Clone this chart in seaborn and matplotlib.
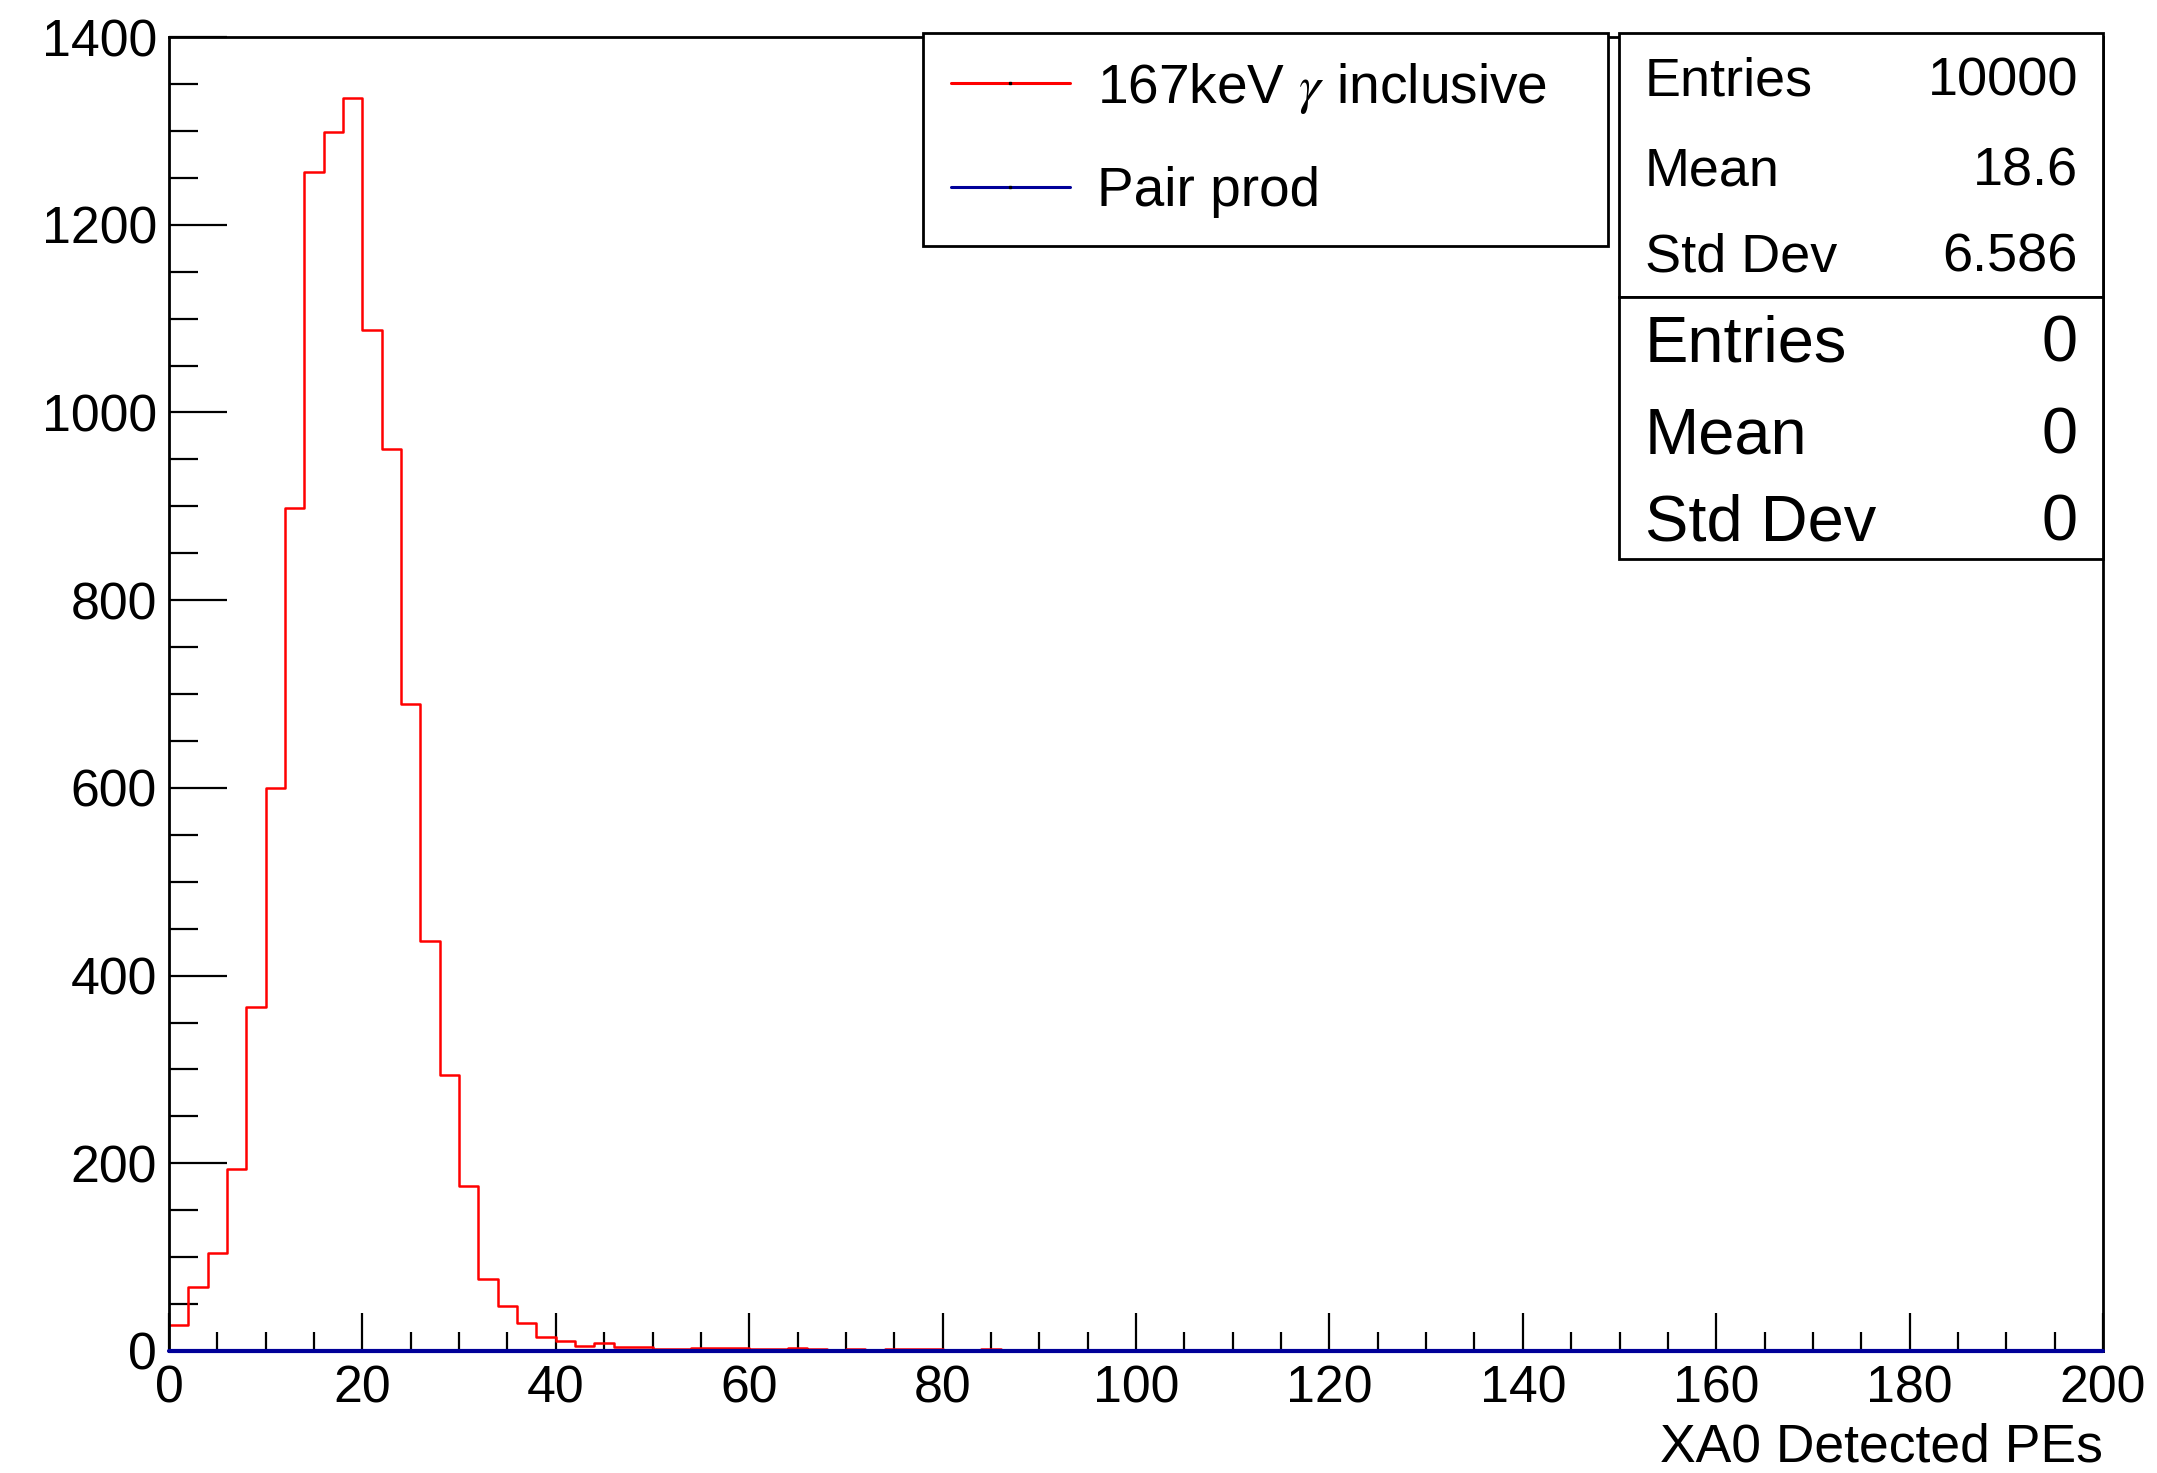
import numpy as np
import pandas as pd
import seaborn as sns
import matplotlib
matplotlib.use("Agg")
import matplotlib.pyplot as plt
from matplotlib.lines import Line2D
from matplotlib.patches import Rectangle
from matplotlib.ticker import MultipleLocator

# ---------------- data ----------------
bin_width = 2
x_range = (0, 200)
inclusive_counts = [
    28, 68, 104, 194, 366, 600, 898, 1256, 1299, 1335,
    1088, 961, 689, 437, 294, 176, 77, 48, 30, 15,
    11, 5, 8, 4, 4, 2, 2, 3, 3, 3,
    2, 2, 3, 2, 0, 2, 0, 2, 2, 2,
    0, 0, 2, 0, 0, 0, 0, 0, 0, 0,
] + [0] * 50
pairprod_counts = [0] * 100

legend_labels = ["167keV $\\gamma$ inclusive", "Pair prod"]
stats1_names = ["Entries", "Mean", "Std Dev"]
stats1_values = ["10000", "18.6", "6.586"]
stats2_names = ["Entries", "Mean", "Std Dev"]
stats2_values = ["0", "0", "0"]
x_label = "XA0 Detected PEs"

# ---------------- style ----------------
sns.set_style("ticks")
plt.rcParams["font.family"] = ["Liberation Sans", "DejaVu Sans"]
plt.rcParams["mathtext.fontset"] = "stix"
for k in ["text.color", "axes.labelcolor", "xtick.color", "ytick.color",
          "xtick.labelcolor", "ytick.labelcolor", "axes.edgecolor"]:
    plt.rcParams[k] = "black"

W, H = 2157, 1473
DPI = 100
fig = plt.figure(figsize=(W / DPI, H / DPI), dpi=DPI)
fig.patch.set_facecolor("white")

def fx(x):
    return x / W

def fy(y):
    return 1 - y / H

ax_l, ax_r, ax_t, ax_b = 169, 2103, 37, 1351
ax = fig.add_axes([fx(ax_l), fy(ax_b), (ax_r - ax_l) / W, (ax_b - ax_t) / H])
ax.set_facecolor("white")

centers = np.arange(x_range[0], x_range[1], bin_width) + bin_width / 2
df_inc = pd.DataFrame({"x": centers, "w": inclusive_counts})
df_pp = pd.DataFrame({"x": centers, "w": pairprod_counts})

red = "#ff0000"
navy = "#000099"

sns.histplot(data=df_inc, x="x", weights="w", binwidth=bin_width, binrange=x_range,
             element="step", fill=False, color=red, linewidth=1.8, ax=ax)
n_red = len(ax.lines)
sns.histplot(data=df_pp, x="x", weights="w", binwidth=bin_width, binrange=x_range,
             element="step", fill=False, color=navy, linewidth=3.0, ax=ax)
for ln in ax.lines[n_red:]:
    ln.set_clip_on(False)
    ln.set_zorder(3)

ax.set_xlim(0, 200)
ax.set_ylim(0, 1400)
ax.set_xlabel("")
ax.set_ylabel("")

for s in ax.spines.values():
    s.set_visible(True)
    s.set_linewidth(2.0)
    s.set_color("black")

ax.xaxis.set_major_locator(MultipleLocator(20))
ax.xaxis.set_minor_locator(MultipleLocator(5))
ax.yaxis.set_major_locator(MultipleLocator(200))
ax.yaxis.set_minor_locator(MultipleLocator(50))

ax.tick_params(axis="x", which="major", direction="in", length=27.4, width=1.6,
               labelsize=37.4, pad=10, top=False, bottom=True, colors="black")
ax.tick_params(axis="x", which="minor", direction="in", length=13.7, width=1.6,
               top=False, bottom=True, colors="black")
ax.tick_params(axis="y", which="major", direction="in", length=41.8, width=1.6,
               labelsize=37.4, pad=8.6, right=False, left=True, colors="black")
ax.tick_params(axis="y", which="minor", direction="in", length=20.9, width=1.6,
               right=False, left=True, colors="black")

# x-axis title (right aligned like ROOT)
fig.text(fx(2103), fy(1462), x_label, ha="right", va="baseline", fontsize=38.5,
         color="black")

# ---------------- legend ----------------
handles = [
    Line2D([], [], color=red, lw=2.2, marker="s", markersize=1.5,
           markerfacecolor="black", markeredgecolor="black"),
    Line2D([], [], color=navy, lw=2.2, marker="s", markersize=1.5,
           markerfacecolor="black", markeredgecolor="black"),
]
leg = ax.legend(handles, legend_labels, loc="upper left",
                bbox_to_anchor=(fx(923), fy(241), 685 / W, 208 / H),
                bbox_transform=fig.transFigure, mode="expand", borderaxespad=0,
                fontsize=39.6, handlelength=2.18, handletextpad=0.49,
                borderpad=0.5, labelspacing=0.92, fancybox=False,
                framealpha=1, edgecolor="black")
leg.get_frame().set_linewidth(2.0)
leg.set_zorder(10)
for t in leg.get_texts():
    t.set_color("black")

# ---------------- stats boxes ----------------
def stats_box(top, bottom, names, values, baselines, fs):
    rect = Rectangle((fx(1619), fy(bottom)), (2103 - 1619) / W, (bottom - top) / H,
                     transform=fig.transFigure, facecolor="white",
                     edgecolor="black", linewidth=2.0, zorder=10)
    fig.patches.append(rect)
    for n, v, b in zip(names, values, baselines):
        fig.text(fx(1645), fy(b), n, ha="left", va="baseline", fontsize=fs,
                 zorder=11, color="black")
        fig.text(fx(2078), fy(b), v, ha="right", va="baseline", fontsize=fs,
                 zorder=11, color="black")

stats_box(33, 297, stats1_names, stats1_values, [95, 185, 272], 38.9)
stats_box(297, 559, stats2_names, stats2_values, [362, 453, 540], 46.8)

fig.savefig("out.png", dpi=DPI, facecolor="white")
